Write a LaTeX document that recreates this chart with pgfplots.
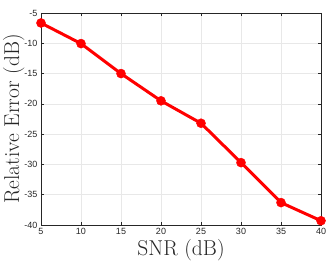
\documentclass[border=0pt]{standalone}
\usepackage{fontspec}
\newfontfamily\tickfont{Liberation Sans}
\usepackage{pgfplots}
\pgfplotsset{compat=1.18}
\definecolor{axgray}{gray}{0.15}
\begin{document}
\begin{tikzpicture}
\begin{axis}[
  scale only axis,
  width=280pt, height=212pt,
  xmin=5, xmax=40, ymin=-40, ymax=-5,
  xtick={5,10,...,40}, ytick={-40,-35,...,-5},
  grid=major,
  grid style={gray!18, line width=0.5pt},
  axis line style={axgray, line width=0.6pt},
  tick style={axgray, line width=0.5pt},
  major tick length=3pt,
  tick align=inside,
  tick pos=both,
  ticklabel style={font=\tickfont\fontsize{9}{10}\selectfont, text=axgray},
  /pgf/number format/assume math mode=true,
  xlabel={SNR (dB)},
  ylabel={Relative Error (dB)},
  label style={font=\fontsize{21.5}{24}\selectfont, text=axgray},
  xlabel style={yshift=2pt},
  ylabel style={yshift=-7pt},
]
\addplot[red, line width=3pt, mark=*, mark size=4.5pt, mark options={fill=red, draw=red, line width=0.5pt}]
  coordinates {(5,-6.65) (10,-10.05) (15,-15) (20,-19.5) (25,-23.2) (30,-29.7) (35,-36.3) (40,-39.3)};
\end{axis}
\pgfresetboundingbox
\path[use as bounding box] (current axis.south west) ++(-41pt,-36pt) rectangle ([shift={(6pt,13pt)}]current axis.north east);
\end{tikzpicture}
\end{document}
